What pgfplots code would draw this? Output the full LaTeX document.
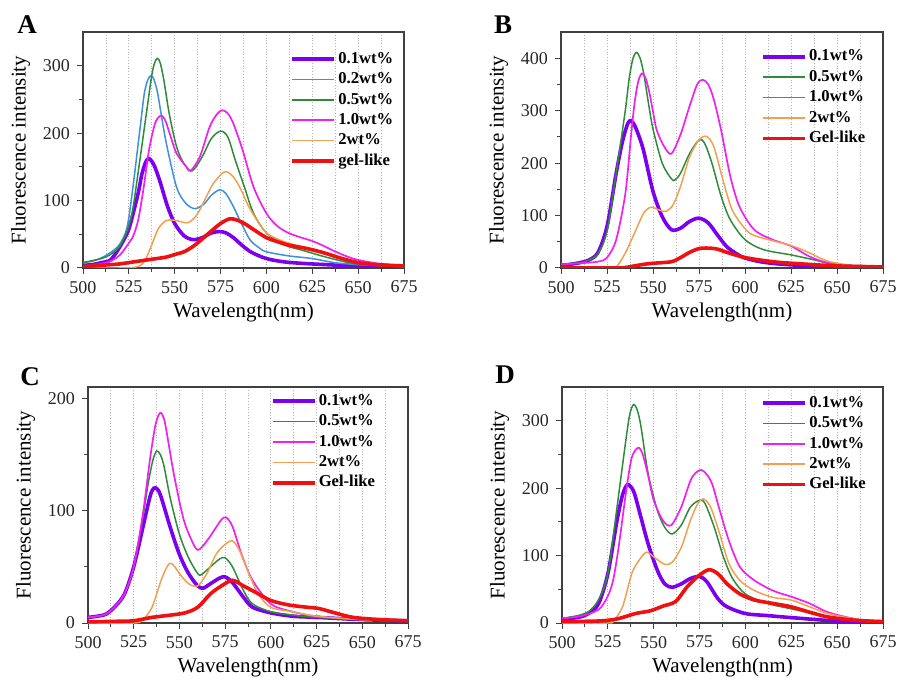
\documentclass[border=0pt]{standalone}
\usepackage{fontspec}
\setmainfont{Liberation Serif}
\usepackage{pgfplots}
\pgfplotsset{compat=1.18}
\definecolor{cP}{HTML}{7B00F0}
\definecolor{cB}{HTML}{3D8FE0}
\definecolor{cG}{HTML}{2E8B3A}
\definecolor{cM}{HTML}{F020F0}
\definecolor{cO}{HTML}{F0A050}
\definecolor{cR}{HTML}{F01010}
\definecolor{axc}{HTML}{404040}
\pgfplotsset{
  panel/.style={
    scale only axis, width=160.5pt, height=118pt,
    xmin=500, xmax=675, ymin=0,
    xtick={500,525,...,675}, minor x tick num=1, minor y tick num=1,
    xmajorgrids, xminorgrids,
    grid style={gray!60, densely dotted, line width=0.4pt},
    tick align=outside, tick pos=left,
    axis line style={axc, line width=0.6pt},
    major tick length=3pt, minor tick length=2pt,
    tick style={axc, line width=0.5pt},
    ticklabel style={font=\fontsize{9}{10}\selectfont, text=black!85},
    label style={font=\fontsize{10.5}{12}\selectfont},
    xlabel={Wavelength(nm)}, ylabel={Fluorescence intensity},
    xlabel style={yshift=2pt},
    ylabel style={yshift=-0.5pt},
    /pgf/number format/assume math mode=true,
    scaled y ticks=false,
    legend style={draw=none, fill=none, inner sep=0pt, anchor=north west,
      font=\bfseries\fontsize{8.3}{9}\selectfont,
      nodes={inner sep=1.2pt, text height=6pt, text depth=1.8pt}},
    legend cell align=left,
    legend image code/.code={\draw[##1] (0pt,0pt) -- (21pt,0pt);},
    every axis plot/.append style={smooth, no markers},
  },
  sP/.style={color=cP, line width=1.8pt},
  sB/.style={color=cB, line width=0.75pt},
  sG/.style={color=cG, line width=0.75pt},
  sM/.style={color=cM, line width=0.85pt},
  sO/.style={color=cO, line width=0.75pt},
  sR/.style={color=cR, line width=1.8pt},
}
\begin{document}
\begin{tikzpicture}[x=1pt,y=1pt]
\useasboundingbox (0,0) rectangle (449.5,340);
% ---------------- A ----------------
\begin{axis}[panel, at={(41.5pt,206pt)}, anchor=south west, ymax=350,
  ytick={0,100,200,300}, legend style={at={(0.645,0.93)}}]
\addplot[sP] coordinates {(500,4)(505,5)(510,8)(515,12)(520,31)(525,58)(530,110)(532,138)(534,156)(535.5,162)(537,160)(539,151)(542,128)(546,92)(550,66)(555,48)(560,42)(565,45)(570,52)(574.5,54)(578,52)(582,45)(587,33)(592,23)(600,14)(610,9)(625,6)(650,3)(675,2)};
\addlegendentry{0.1wt\%}
\addplot[sB] coordinates {(500,8)(505,10)(510,15)(515,23)(520,35)(524,60)(527,115)(531,205)(533.5,260)(535.5,280)(537,285)(538.5,281)(540.5,262)(542.5,230)(545.5,184)(551,120)(556,96)(561,88)(566,95)(570,108)(574.6,116)(578,110)(582,91)(586,68)(591,42)(596,30)(600,24)(612,18)(625,14)(637,8)(650,5)(675,2)};
\addlegendentry{0.2wt\%}
\addplot[sG] coordinates {(500,8)(510,14)(515,20)(520,32)(524,55)(527,85)(531,160)(535,238)(537.5,286)(539,304)(540.5,311)(542,305)(544,280)(547,229)(551,180)(555,155)(559.5,144)(565,165)(570,192)(575,203)(579,194)(583,160)(588,120)(593,81)(600,52)(610,34)(620,26)(630,18)(640,11)(650,6)(675,2)};
\addlegendentry{0.5wt\%}
\addplot[sM] coordinates {(500,3)(507,5)(514,9)(520,19)(525,37)(527,45)(530,70)(533,118)(536,175)(539,212)(541,223)(543,226)(545,218)(547.3,199)(551,170)(556.4,150)(558.6,144)(563.7,165)(569,209)(573,228)(576,234)(579,229)(582,214)(587,175)(593,120)(600,81)(606,62)(612,52)(618,46)(625,40)(631,33)(637,25)(645,16)(650,12)(660,7)(675,3)};
\addlegendentry{1.0wt\%}
\addplot[sO] coordinates {(500,0)(520,0)(528,1)(532,5)(535,18)(538,38)(541,58)(545,70)(549,71)(553,69)(557,67)(561,75)(564,88)(568,110)(571,125)(575,138)(578,143)(582,135)(586,117)(590,93)(595,70)(600,52)(606,43)(612,37)(620,31)(625,28)(632,22)(640,15)(650,9)(660,5)(675,2)};
\addlegendentry{2wt\%}
\addplot[sR] coordinates {(500,2)(510,4)(520,6)(525,8)(535,12)(545,16)(550,20)(555,24)(560,32)(565,43)(570,55)(575,66)(580,73)(584,71)(588,66)(593,57)(600,45)(606,39)(612,34)(620,30)(625,27)(632,22)(640,15)(650,8)(660,5)(675,3)};
\addlegendentry{gel-like}
\end{axis}
% ---------------- B ----------------
\begin{axis}[panel, at={(280.5pt,206pt)}, anchor=south west, width=161pt, ymax=450,
  ytick={0,100,200,300,400}, legend style={at={(0.62,0.94)}}]
\addplot[sP] coordinates {(500,5)(505,7)(510,10)(515,15)(520,29)(525,79)(530,181)(533,235)(535,262)(536.5,277)(538,281)(540,272)(542.5,250)(545,222)(550,146)(555,98)(560,73)(565,76)(570,89)(575,95)(580,86)(585,63)(590,41)(595,28)(600,19)(610,11)(625,6)(650,3)(675,2)};
\addlegendentry{0.1wt\%}
\addplot[sG] coordinates {(500,7)(510,10)(515,15)(520,27)(525,70)(530,181)(535,302)(537,360)(539,398)(541,411)(543,400)(545,370)(547.5,315)(550,265)(555,200)(560,170)(562,168)(565,181)(570,219)(575,244)(578,238)(582,200)(587,137)(592,92)(600,54)(610,35)(625,25)(637,16)(650,6)(675,2)};
\addlegendentry{0.5wt\%}
\addplot[sM] coordinates {(500,7)(510,9)(520,12)(525,20)(530,54)(535,143)(538,250)(540,315)(542,356)(544,371)(546,362)(548,335)(550,298)(552,263)(556,232)(560,218)(565,255)(570,310)(574,350)(577,359)(580,350)(583,322)(587,263)(592,175)(597,117)(605,73)(615,54)(625,42)(635,22)(645,10)(660,4)(675,2)};
\addlegendentry{1.0wt\%}
\addplot[sO] coordinates {(500,0)(525,0)(530,2)(535,29)(540,67)(545,105)(549,116)(553,111)(557,108)(561,121)(565,156)(570,213)(575,244)(579,251)(583,232)(588,168)(593,111)(600,75)(605,62)(615,52)(625,43)(635,29)(645,13)(660,4)(675,2)};
\addlegendentry{2wt\%}
\addplot[sR] coordinates {(500,0)(530,0)(535,1)(540,4)(545,7)(550,9)(560,12)(565,20)(570,30)(575,37)(580,38)(585,36)(590,30)(600,20)(615,12)(630,8)(650,4)(675,2)};
\addlegendentry{Gel-like}
\end{axis}
% ---------------- C ----------------
\begin{axis}[panel, at={(44pt,28.5pt)}, anchor=south west, width=160pt, ymax=210,
  ytick={0,100,200}, legend style={at={(0.57,0.985)}}]
\addplot[sP] coordinates {(500,5)(505,6)(510,8)(515,15)(520,26)(525,50)(530,85)(534,113)(536,120)(538,119)(540,112)(545,85)(550,61)(555,44)(560,33)(563,31)(567,35)(572,40)(575,41)(579,36)(585,23)(590,14)(600,9)(612,6)(625,5)(650,3)(675,2)};
\addlegendentry{0.1wt\%}
\addplot[sG] coordinates {(500,5)(505,6)(510,8)(515,15)(520,26)(525,50)(530,94)(533,125)(535.5,145)(537.5,153)(539.5,150)(541.5,140)(545,111)(550,79)(555,58)(560,44)(562,43)(567,50)(572,57)(575,58)(579,50)(585,29)(590,17)(600,10)(612,7)(625,5)(650,3)(675,2)};
\addlegendentry{0.5wt\%}
\addplot[sM] coordinates {(500,5)(505,6)(510,8)(515,15)(520,26)(525,50)(530,97)(534,147)(537,177)(539.5,187)(541.5,182)(543,170)(547,132)(552,94)(556,76)(560,65)(565,73)(570,85)(573,92)(575.5,94)(579,86)(584,61)(590,38)(600,17)(612,10)(625,6)(650,3)(675,2)};
\addlegendentry{1.0wt\%}
\addplot[sO] coordinates {(500,0)(525,0)(530,3)(535,14)(540,38)(543.5,51)(545.5,53)(547.5,50)(550,44)(555,35)(560,33)(565,44)(570,61)(575,70)(579,73)(583,64)(588,44)(593,26)(600,14)(612,10)(625,6)(650,3)(675,2)};
\addlegendentry{2wt\%}
\addplot[sR] coordinates {(500,1)(515,1.5)(525,2)(535,5)(545,7)(553,9)(560,14)(567,26)(573,33)(579,38)(585,33)(592,27)(600,20)(610,16)(620,14)(626,13)(635,9)(645,5)(660,3)(675,2)};
\addlegendentry{Gel-like}
\end{axis}
% ---------------- D ----------------
\begin{axis}[panel, at={(281pt,28.5pt)}, anchor=south west, ymax=350,
  ytick={0,100,200,300}, legend style={at={(0.62,0.977)}}]
\addplot[sP] coordinates {(500,5)(505,7)(510,9)(515,15)(520,29)(525,73)(530,152)(533,190)(535.5,205)(537.5,202)(539.5,192)(543,157)(547,117)(552,78)(556,58)(560,53)(565,58)(570,66)(575,69)(579,61)(585,36)(590,24)(600,14)(612,11)(625,8)(650,3)(675,2)};
\addlegendentry{0.1wt\%}
\addplot[sG] coordinates {(500,7)(505,9)(510,12)(515,18)(520,35)(525,73)(530,172)(535,275)(537,310)(539,324)(541,316)(543,292)(547,221)(552,167)(556,142)(560,132)(565,145)(570,172)(575,182)(578,177)(583,142)(588,98)(593,66)(600,43)(612,29)(625,21)(637,14)(650,7)(675,2)};
\addlegendentry{0.5wt\%}
\addplot[sM] coordinates {(500,7)(510,10)(520,20)(525,40)(528,65)(531,115)(535,196)(538,245)(541.5,260)(544,250)(547,218)(550,182)(555,152)(559.5,145)(565,172)(570,211)(573,223)(576,227)(579,220)(582,205)(586,167)(591,122)(597,83)(605,63)(615,48)(625,39)(635,29)(645,16)(660,6)(675,2)};
\addlegendentry{1.0wt\%}
\addplot[sO] coordinates {(500,0)(525,0)(528,3)(533,24)(538,73)(542,93)(546,105)(550,98)(556,87)(560,90)(565,112)(570,152)(574,177)(577,184)(581,172)(586,132)(591,88)(597,63)(605,48)(615,38)(625,34)(635,24)(645,14)(660,6)(675,2)};
\addlegendentry{2wt\%}
\addplot[sR] coordinates {(500,2)(520,3)(530,6)(540,14)(548,18)(555,25)(562,32)(568,53)(574,69)(580,79)(585,73)(590,58)(597,43)(605,34)(615,29)(625,24)(635,16)(645,9)(660,4)(675,2)};
\addlegendentry{Gel-like}
\end{axis}
% panel letters
\node[font=\bfseries\fontsize{13.5}{15}\selectfont] at (13.5,327.5) {A};
\node[font=\bfseries\fontsize{13.5}{15}\selectfont] at (251.5,327.5) {B};
\node[font=\bfseries\fontsize{13.5}{15}\selectfont] at (15,151.5) {C};
\node[font=\bfseries\fontsize{13.5}{15}\selectfont] at (252.5,152.5) {D};
\end{tikzpicture}
\end{document}
